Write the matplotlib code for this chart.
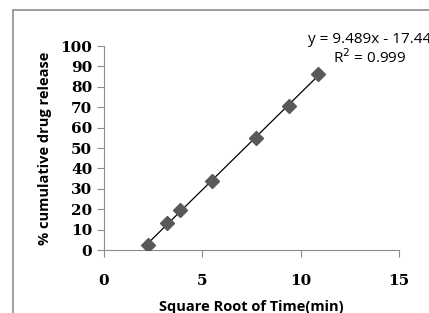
import numpy as np
import matplotlib
matplotlib.use("Agg")
import matplotlib.pyplot as plt
from matplotlib.patches import Rectangle

# data
sqrt_time = [2.24, 3.18, 3.88, 5.47, 7.73, 9.43, 10.87]
release = [2.5, 13.1, 19.7, 33.7, 54.7, 70.7, 86.3]
eq_text = "y = 9.489x - 17.44"
r2_text = "R$^2$ = 0.999"

fig = plt.figure(figsize=(4.29, 3.13), dpi=100)
W, H = 429, 313
ax = fig.add_axes([104 / W, 1 - 250 / H, (399 - 104) / W, (250 - 46) / H])

# outer chart border, cut off on the right and bottom
fig.patches.append(Rectangle((13 / W, -0.05), 1.0, 1 - 10 / H + 0.05,
                             transform=fig.transFigure, fill=False,
                             edgecolor="#8c8c8c", linewidth=1.2))

ax.plot(sqrt_time, release, linestyle="none", marker="D", markersize=7,
        color="#595959", zorder=3)
k, b = np.polyfit(sqrt_time, release, 1)
xs = np.array([min(sqrt_time), max(sqrt_time)])
ax.plot(xs, k * xs + b, color="black", linewidth=0.9, zorder=2)

ax.set_xlim(0, 15)
ax.set_ylim(0, 100)
ax.set_xticks([0, 5, 10, 15])
ax.set_yticks(range(0, 101, 10))
for s in ["top", "right"]:
    ax.spines[s].set_visible(False)
for s in ["left", "bottom"]:
    ax.spines[s].set_color("#8c8c8c")
ax.tick_params(colors="#8c8c8c", length=5, labelcolor="black")
for lab in ax.get_xticklabels() + ax.get_yticklabels():
    lab.set_fontfamily("DejaVu Serif")
    lab.set_fontweight("bold")
    lab.set_fontsize(11)
ax.tick_params(axis="x", pad=12)

ax.set_ylabel("% cumulative drug release", fontfamily="Open Sans",
              fontweight="bold", fontsize=10.5, labelpad=6)
ax.set_xlabel("Square Root of Time(min)", fontfamily="Open Sans",
              fontweight="bold", fontsize=10.5, labelpad=9)

fig.text(308 / W, 1 - 43 / H, eq_text, fontfamily="Open Sans", fontsize=11)
fig.text(333 / W, 1 - 63 / H, r2_text, fontfamily="Open Sans", fontsize=11)

fig.savefig("out.png", dpi=100)
